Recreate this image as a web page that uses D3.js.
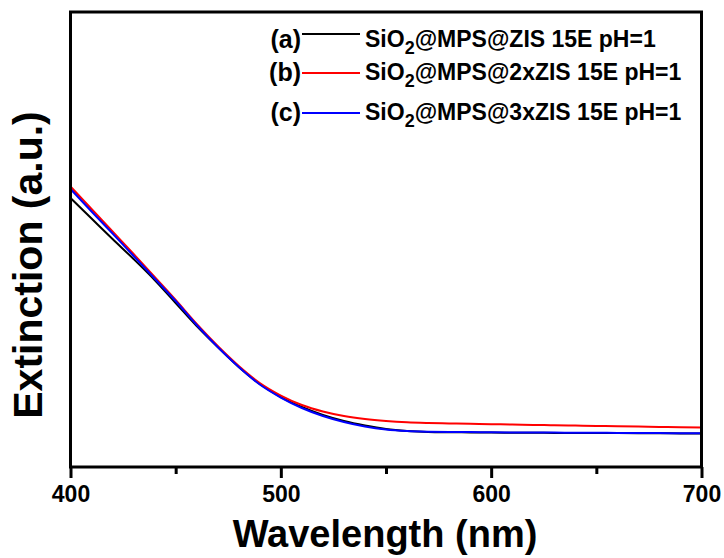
<!DOCTYPE html>
<html>
<head>
<meta charset="utf-8">
<script src="https://cdn.jsdelivr.net/npm/d3@7"></script>
<style>
  html, body { margin: 0; padding: 0; background: #fff; }
  svg { display: block; font-family: "Liberation Sans", Arial, Helvetica, sans-serif; font-weight: bold; }
</style>
</head>
<body>
<svg id="chart" width="724" height="558"></svg>
<script>
// Extinction spectra (arbitrary units) sampled every 10 nm
const wavelengths = d3.range(400, 701, 10);

const seriesA = [0.5912, 0.5462, 0.5011, 0.4571, 0.4110, 0.3604, 0.3099, 0.2637, 0.2198, 0.1824,
  0.1538, 0.1319, 0.1143, 0.1011, 0.0912, 0.0835, 0.0791, 0.0769, 0.0763, 0.0760,
  0.0756, 0.0754, 0.0752, 0.0749, 0.0747, 0.0747, 0.0745, 0.0743, 0.0741, 0.0738, 0.0736];

const seriesB = [0.6165, 0.5670, 0.5176, 0.4681, 0.4176, 0.3670, 0.3143, 0.2659, 0.2220, 0.1846,
  0.1571, 0.1363, 0.1220, 0.1121, 0.1055, 0.1011, 0.0982, 0.0967, 0.0958, 0.0949,
  0.0941, 0.0934, 0.0925, 0.0919, 0.0910, 0.0901, 0.0895, 0.0888, 0.0879, 0.0873, 0.0868];

const seriesC = [0.6110, 0.5615, 0.5132, 0.4637, 0.4143, 0.3648, 0.3121, 0.2637, 0.2198, 0.1813,
  0.1527, 0.1297, 0.1121, 0.0989, 0.0890, 0.0824, 0.0791, 0.0776, 0.0769, 0.0767,
  0.0763, 0.0760, 0.0758, 0.0756, 0.0754, 0.0752, 0.0749, 0.0747, 0.0745, 0.0743, 0.0741];

const seriesTags = ["(a)", "(b)", "(c)"];
const seriesNames = ["@MPS@ZIS 15E pH=1", "@MPS@2xZIS 15E pH=1", "@MPS@3xZIS 15E pH=1"];
const seriesColors = ["#000000", "#ff0000", "#0000ff"];

const majorTicks = [400, 500, 600, 700];
const minorTicks = [450, 550, 650];

const xTitle = "Wavelength (nm)";
const yTitle = "Extinction (a.u.)";

const svg = d3.select("#chart");
const plotLeft = 70.5, plotRight = 701.5, plotTop = 12, plotBottom = 467;

const x = d3.scaleLinear().domain([400, 700]).range([plotLeft, plotRight]);
const y = d3.scaleLinear().domain([0, 1]).range([plotBottom, plotTop]);

const allSeries = [seriesA, seriesB, seriesC];

// spectra
const line = d3.line()
  .x((d, i) => x(wavelengths[i]))
  .y(d => y(d))
  .curve(d3.curveMonotoneX);

svg.append("g")
  .selectAll("path")
  .data(allSeries)
  .join("path")
  .attr("d", d => line(d))
  .attr("fill", "none")
  .attr("stroke", (d, i) => seriesColors[i])
  .attr("stroke-width", 2);

// bottom axis: major ticks with labels, minor ticks without
const xMajor = svg.append("g")
  .attr("transform", `translate(0,${plotBottom})`)
  .call(d3.axisBottom(x).tickValues(majorTicks).tickSize(11).tickSizeOuter(0).tickPadding(8));
xMajor.select(".domain").remove();
xMajor.selectAll("line").attr("stroke", "#000").attr("stroke-width", 3);
xMajor.selectAll("text")
  .attr("fill", "#000")
  .style("font-size", "23px")
  .style("font-weight", "bold")
  .style("font-family", "'Liberation Sans', Arial, sans-serif");

const xMinor = svg.append("g")
  .attr("transform", `translate(0,${plotBottom})`)
  .call(d3.axisBottom(x).tickValues(minorTicks).tickSize(7).tickSizeOuter(0).tickFormat(""));
xMinor.select(".domain").remove();
xMinor.selectAll("line").attr("stroke", "#000").attr("stroke-width", 3);

// frame
svg.append("rect")
  .attr("x", x(400)).attr("y", y(1))
  .attr("width", x(700) - x(400)).attr("height", y(0) - y(1))
  .attr("fill", "none").attr("stroke", "#000").attr("stroke-width", 3);

// axis titles
svg.append("text")
  .attr("x", (plotLeft + plotRight) / 2 - 1).attr("y", 547)
  .attr("text-anchor", "middle")
  .style("font-size", "38px")
  .text(xTitle);

svg.append("text")
  .attr("transform", `translate(42,265) rotate(-90)`)
  .attr("text-anchor", "middle")
  .style("font-size", "41px")
  .text(yTitle);

// legend: line positions and text baselines per row
const legendLineY = [34, 73, 113];
const legendBaseY = [47, 80, 120];
const legend = svg.append("g");
seriesTags.forEach((tag, i) => {
  legend.append("text")
    .attr("x", 301).attr("y", legendBaseY[i] + 1)
    .attr("text-anchor", "end")
    .style("font-size", "25px")
    .text(tag);
  legend.append("line")
    .attr("x1", 302).attr("x2", 360)
    .attr("y1", legendLineY[i]).attr("y2", legendLineY[i])
    .attr("stroke", seriesColors[i]).attr("stroke-width", 2);
  const t = legend.append("text")
    .attr("x", 365).attr("y", legendBaseY[i])
    .style("font-size", "23px");
  t.append("tspan").text("SiO");
  t.append("tspan").attr("dy", 7).style("font-size", "18px").text("2");
  t.append("tspan").attr("dy", -7).text(seriesNames[i]);
});
</script>
</body>
</html>
